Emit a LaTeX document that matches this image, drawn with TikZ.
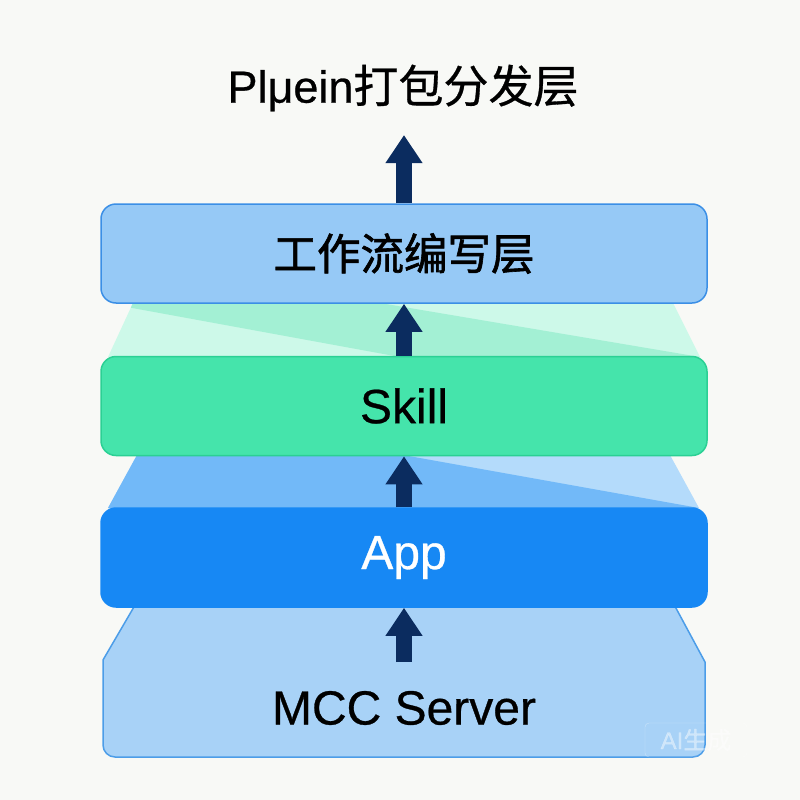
\documentclass[tikz,border=0pt]{standalone}
\usepackage{fontspec}
\setmainfont{Liberation Sans}[FakeBold=0.6]
\newfontfamily\latm[FakeBold=0.6]{Liberation Sans}
\newfontfamily\cjk[FakeBold=0.7]{Noto Sans CJK SC}
\newfontfamily\cjkb[FakeBold=1.4]{Noto Sans CJK SC}
\usetikzlibrary{arrows.meta}
\definecolor{bgc}{HTML}{F8F9F6}
\definecolor{wffill}{HTML}{96C9F6}
\definecolor{wfdraw}{HTML}{3B8FE6}
\definecolor{skfill}{HTML}{45E4AB}
\definecolor{skdraw}{HTML}{2BD094}
\definecolor{appfill}{HTML}{1788F4}
\definecolor{mccfill}{HTML}{A8D2F7}
\definecolor{mccdraw}{HTML}{4C9DE8}
\definecolor{navy}{HTML}{0B2C5F}
\definecolor{gLight}{HTML}{CDF9E9}
\definecolor{gMid}{HTML}{A3F0D4}
\definecolor{bLight}{HTML}{B4DBFB}
\definecolor{bMid}{HTML}{72B9F8}
\tikzset{
  layer/.style={rounded corners=15pt, minimum width=606pt, minimum height=99pt, line width=1.5pt, inner sep=0pt},
  lbl/.style={font=\latm\fontsize{48}{52}\selectfont},
  cjklbl/.style={font=\cjkb\fontsize{43.5}{48}\selectfont},
  bigarrow/.style={draw=navy, line width=16pt, -{Triangle[width=35pt,length=28pt]}},
}
\begin{document}
\begin{tikzpicture}[x=1pt,y=-1pt]
\fill[bgc] (0,0) rectangle (800,800);
\useasboundingbox (0,0) rectangle (800,800);
% green gap
\fill[gLight] (133,303) -- (673,303) -- (700,357) -- (108,357) -- cycle;
\begin{scope}
\clip (133,303) -- (673,303) -- (700,357) -- (108,357) -- cycle;
\fill[gMid] (105,303) -- (380,303) -- (700,357) -- (400,357) -- cycle;
\end{scope}
% blue gap
\fill[bLight] (137,455) -- (670,455) -- (699,508) -- (108,508) -- cycle;
\fill[bMid] (137,455) -- (403,455) -- (699,508) -- (108,508) -- cycle;
% MCC shape
\filldraw[fill=mccfill, draw=mccdraw, line width=1.5pt]
  (138,600) -- (103,660) [rounded corners=12pt] -- (103,757) -- (705,757) [sharp corners] -- (705,662) -- (671.6,600) -- cycle;
\node[lbl] (mcc) at (404,708) {MCC Server};
\coordinate (mcctop) at (404,662);
% boxes
\node[layer, fill=wffill, draw=wfdraw, cjklbl] (wf) at (404,253.5) {工作流编写层};
\node[layer, fill=skfill, draw=skdraw, lbl] (skill) at (404,406) {Skill};
\node[layer, fill=appfill, draw=appfill, lbl, text=white] (app) at (404,557.5) {App};
% title
\node[font=\latm\fontsize{45}{50}\selectfont] (title) at (403,88) {Plμein{\cjk 打包分发层}};
\coordinate (toptip) at (404,135);
% arrows
\draw[bigarrow] (wf.north) -- (toptip);
\draw[bigarrow] (skill.north) -- (wf.south);
\draw[bigarrow] (app.north) -- (skill.south);
\draw[bigarrow] (mcctop) -- (app.south);
% watermark
\node[draw=white, draw opacity=0.4, rounded corners=4pt, minimum width=102pt, minimum height=34pt, text=white, text opacity=0.45, font=\fontsize{24}{26}\selectfont] (wm) at (696,740) {AI{\cjk 生成}};
\end{tikzpicture}
\end{document}
